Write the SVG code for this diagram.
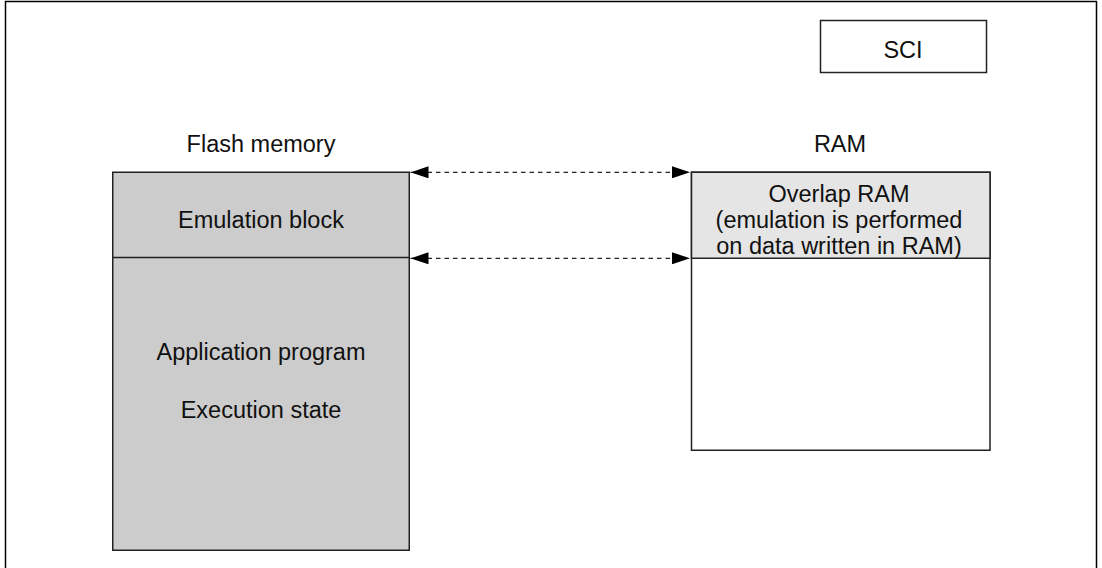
<svg xmlns="http://www.w3.org/2000/svg" width="1102" height="568" viewBox="0 0 1102 568">
<defs>
<style>
text{font-family:"Liberation Sans",Arial,sans-serif;font-size:23.5px;fill:#111;text-anchor:middle}
.box{stroke:#222;stroke-width:1.5}
.conn{stroke:#222;stroke-width:1.3;stroke-dasharray:4.5 4;fill:none}
</style>
<marker id="ah" viewBox="0 0 18 12" refX="18" refY="6" markerWidth="18" markerHeight="12" markerUnits="userSpaceOnUse" orient="auto-start-reverse">
<path d="M0,0 L18,6 L0,12 Z" fill="#000"/>
</marker>
</defs>
<rect width="1102" height="568" fill="#fff"/>
<path d="M5.5,568 V1.5 H1096.5 V568" fill="none" stroke="#000" stroke-width="1.5"/>
<g id="sci">
<rect class="box" x="820.5" y="20.5" width="166" height="52" fill="#fff"/>
<text x="903" y="57.5">SCI</text>
</g>
<g id="flash-label"><text x="261" y="151.5">Flash memory</text></g>
<g id="ram-label"><text x="840" y="151.5">RAM</text></g>
<g id="flash">
<rect class="box" x="112.75" y="172.25" width="296.5" height="378" fill="#cccccc"/>
<line class="box" x1="112.75" y1="257.5" x2="409.25" y2="257.5"/>
<text x="261" y="227.5">Emulation block</text>
<text x="261" y="360">Application program</text>
<text x="261" y="418">Execution state</text>
</g>
<g id="ram">
<rect class="box" x="691.5" y="172.25" width="298.5" height="278" fill="#fff"/>
<rect class="box" x="691.5" y="172.25" width="298.5" height="86" fill="#e5e5e5"/>
<text x="839" y="201.5">Overlap RAM</text>
<text x="839" y="227.5">(emulation is performed</text>
<text x="839" y="253.5">on data written in RAM)</text>
</g>
<g id="connectors">
<line class="conn" x1="410.5" y1="172.3" x2="690" y2="172.3" marker-start="url(#ah)" marker-end="url(#ah)"/>
<line class="conn" x1="410.5" y1="258.3" x2="690" y2="258.3" marker-start="url(#ah)" marker-end="url(#ah)"/>
</g>
</svg>
